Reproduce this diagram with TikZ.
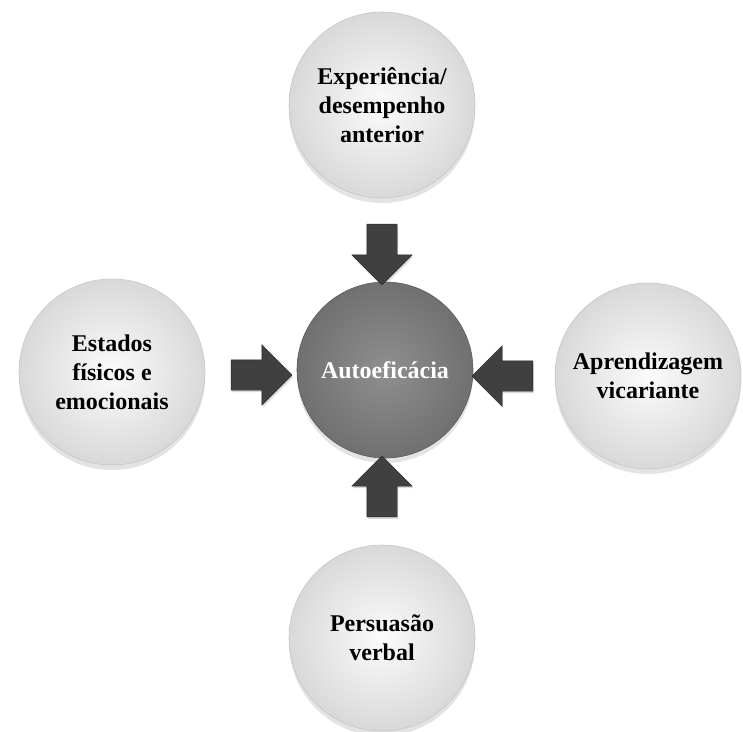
\documentclass[tikz,border=0pt]{standalone}
\usepackage{fontspec}
\setmainfont{Liberation Serif}
\usetikzlibrary{shapes.arrows,shadows}

\tikzset{
  fator/.style={circle, minimum size=186pt, inner sep=0pt, align=center,
    font=\fontsize{24}{29}\selectfont\bfseries, text=black,
    draw=gray!45, line width=0.6pt,
    inner color=white!97!gray, outer color=gray!30,
    drop shadow={shadow xshift=0pt, shadow yshift=-5pt, opacity=0.22}},
  nucleo/.style={fator, minimum size=176pt, text=white,
    draw=gray!70!black, inner color=gray!88!white, outer color=gray!88!black},
  seta/.style={single arrow, minimum height=61pt, minimum width=60pt,
    single arrow head extend=15pt, single arrow tip angle=90,
    inner xsep=0pt, inner ysep=15pt,
    fill=black!75, draw=black!85, line width=0.4pt,
    drop shadow={shadow xshift=1pt, shadow yshift=-2pt, opacity=0.3}}
}

\begin{document}
\begin{tikzpicture}[x=1pt, y=-1pt]
\useasboundingbox (0,0) rectangle (743,731);
\node[nucleo] (auto) at (385,370) {Autoeficácia};

\node[fator] (exp) at (382,105) {Experiência/\\desempenho\\anterior};
\node[fator] (est) at (112,372) {Estados\\físicos e\\emocionais};
\node[fator] (apr) at (648,376) {Aprendizagem\\vicariante};
\node[fator] (per) at (382,638) {Persuasão\\verbal};

\node[seta, rotate=-90] (sT) at (382,247) {};
\node[seta] (sL) at (254,375) {};
\node[seta, rotate=180] (sR) at (510,376) {};
\node[seta, rotate=90] (sB) at (382,494) {};
\end{tikzpicture}
\end{document}
